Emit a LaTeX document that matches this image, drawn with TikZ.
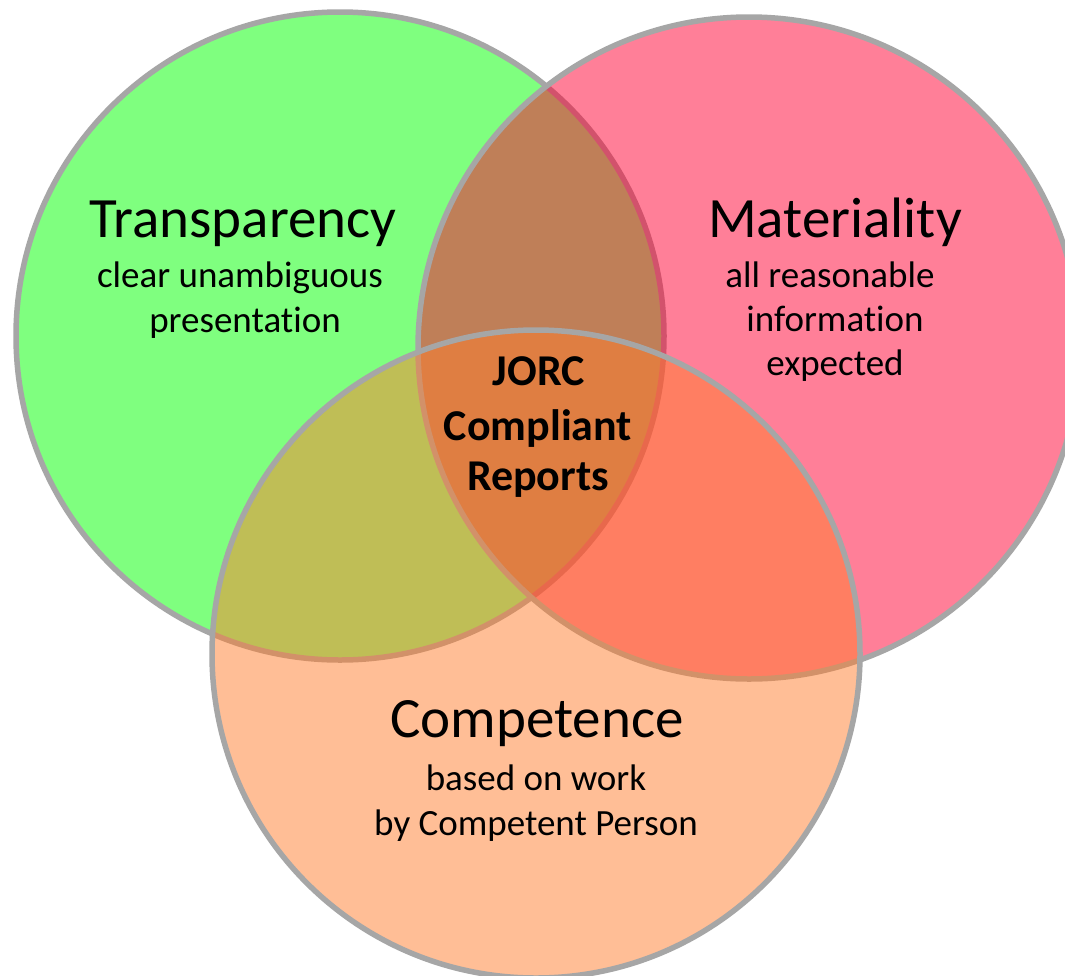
\documentclass[tikz,border=0pt]{standalone}
\usepackage{fontspec}
\setmainfont{Carlito}[Ligatures=NoCommon]
\usetikzlibrary{positioning}
\definecolor{ringgray}{RGB}{166,166,166}
\definecolor{transgreen}{RGB}{0,255,0}
\definecolor{matpink}{RGB}{255,0,51}
\definecolor{comppeach}{RGB}{255,126,46}
\begin{document}
\begin{tikzpicture}[x=1pt, y=-1pt,
    ring/.style = {draw=ringgray, line width=5.5pt, fill opacity=0.5},
    head/.style = {anchor=base, font=\fontsize{57}{68}\selectfont},
    sub/.style  = {anchor=base, font=\fontsize{37}{45}\selectfont},
    core/.style = {anchor=base, font=\fontsize{44}{53}\selectfont\bfseries}]
    \fill[white] (0,0) rectangle (1065,975);
    \useasboundingbox (0,0) rectangle (1065,975);

    % the three sets
    \draw[ring, fill=transgreen] (340,336) circle[radius=324pt];
    \draw[ring, fill=matpink]    (749,348) circle[radius=331pt];
    \draw[ring, fill=comppeach]  (536,654) circle[radius=324pt];

    \node[head] (t)  at (243,237) {Transparency};
    \node[sub]  (t1) at (240,287) {clear unambiguous};
    \node[sub]  (t2) at (245,332) {presentation};

    \node[head] (m)  at (835,237) {Materiality};
    \node[sub]  (m1) at (830,287) {all reasonable};
    \node[sub]  (m2) at (835,331) {information};
    \node[sub]  (m3) at (835,375) {expected};

    \node[head] (c)  at (537,737) {Competence};
    \node[sub]  (c1) at (536,790) {based on work};
    \node[sub]  (c2) at (536,835) {by Competent Person};

    \node[core] (j1) at (539,385) {JORC};
    \node[core] (j2) at (538,440) {Compliant};
    \node[core] (j3) at (538,490) {Reports};
\end{tikzpicture}
\end{document}
